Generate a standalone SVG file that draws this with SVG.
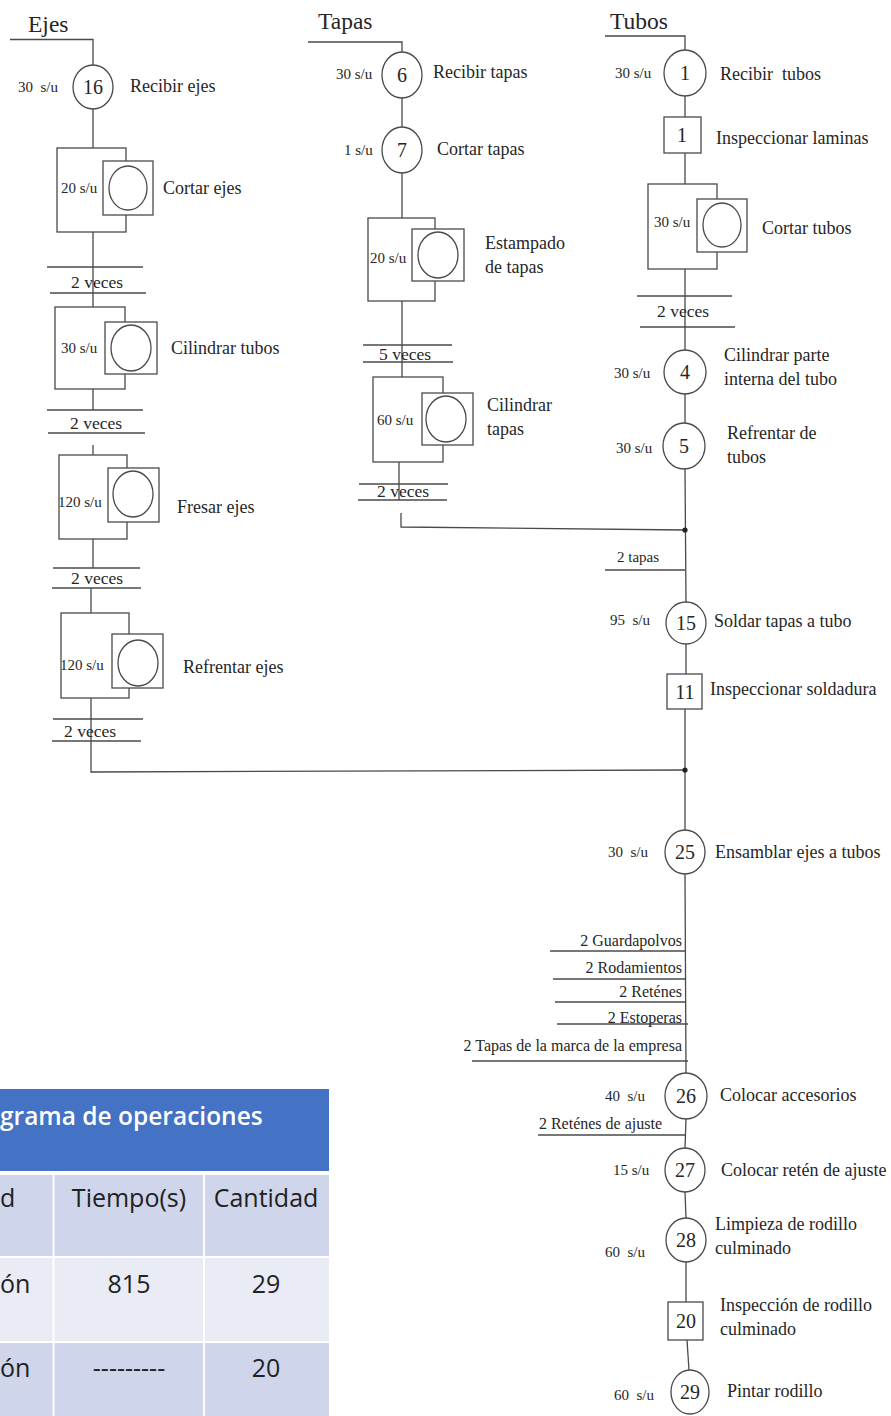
<svg xmlns="http://www.w3.org/2000/svg" width="891" height="1416" viewBox="0 0 891 1416">
<style>
.ln{stroke:#4a4a4a;stroke-width:1.3;fill:none}
.sh{stroke:#4a4a4a;stroke-width:1.3;fill:#fff}
.ob{stroke:#4a4a4a;stroke-width:1.3;fill:none}
text{font-family:"Liberation Serif","Times New Roman",serif;fill:#262626}
.t{font-size:23.5px}
.lb{font-size:18px}
.su{font-size:15px}
.vz{font-size:17.5px;text-anchor:middle}
.num{font-size:20px;text-anchor:middle}
.in{font-size:16px;text-anchor:end}
.tb{font-family:"Open Sans","Noto Sans",sans-serif;font-size:25px;fill:#222}
.th{font-family:"Open Sans","Noto Sans",sans-serif;font-size:24.5px;font-weight:600;fill:#fff}
</style>
<rect width="891" height="1416" fill="#fff"/>

<g id="connectors">
  <polyline class="ln" points="10,39.5 93,39.5 93,65"/>
  <line class="ln" x1="93" y1="109" x2="93" y2="148"/>
  <line class="ln" x1="93" y1="232" x2="93" y2="307"/>
  <line class="ln" x1="47" y1="267" x2="143" y2="267"/>
  <line class="ln" x1="50" y1="293" x2="146" y2="293"/>
  <line class="ln" x1="93" y1="389" x2="93" y2="410"/>
  <line class="ln" x1="47" y1="410" x2="143" y2="410"/>
  <line class="ln" x1="48" y1="433" x2="145" y2="433"/>
  <line class="ln" x1="93" y1="445" x2="93" y2="455"/>
  <line class="ln" x1="93" y1="539" x2="93" y2="568"/>
  <line class="ln" x1="53" y1="568" x2="140" y2="568"/>
  <line class="ln" x1="52" y1="588" x2="141" y2="588"/>
  <line class="ln" x1="91" y1="588" x2="91" y2="613"/>
  <line class="ln" x1="91" y1="698" x2="91" y2="741"/>
  <line class="ln" x1="53" y1="719" x2="143" y2="719"/>
  <line class="ln" x1="52" y1="741" x2="141" y2="741"/>
  <polyline class="ln" points="91,741 91,772 685,770"/>
  <polyline class="ln" points="308,42 402,42 402,52"/>
  <line class="ln" x1="402" y1="98" x2="402" y2="127"/>
  <line class="ln" x1="402" y1="173" x2="402" y2="218"/>
  <line class="ln" x1="402" y1="301" x2="402" y2="377"/>
  <line class="ln" x1="363" y1="345" x2="452" y2="345"/>
  <line class="ln" x1="363" y1="362" x2="453" y2="362"/>
  <line class="ln" x1="399" y1="462" x2="399" y2="500"/>
  <line class="ln" x1="359" y1="484" x2="448" y2="484"/>
  <line class="ln" x1="358" y1="500" x2="447" y2="500"/>
  <polyline class="ln" points="401,513 401,527 685,530"/>
  <polyline class="ln" points="605,36 685,36 685,50"/>
  <line class="ln" x1="685" y1="96" x2="685" y2="117"/>
  <line class="ln" x1="685" y1="153" x2="685" y2="184"/>
  <line class="ln" x1="685" y1="269" x2="685" y2="350"/>
  <line class="ln" x1="637" y1="296" x2="732" y2="296"/>
  <line class="ln" x1="640" y1="327" x2="735" y2="327"/>
  <line class="ln" x1="685" y1="394" x2="685" y2="423"/>
  <line class="ln" x1="685" y1="469" x2="686" y2="602"/>
  <line class="ln" x1="605" y1="570" x2="685" y2="570"/>
  <line class="ln" x1="686" y1="644" x2="686" y2="674"/>
  <line class="ln" x1="685" y1="709" x2="685" y2="830"/>
  <line class="ln" x1="685" y1="874" x2="686" y2="1073"/>
  <line class="ln" x1="550" y1="951" x2="686" y2="951"/>
  <line class="ln" x1="553" y1="979" x2="686" y2="979"/>
  <line class="ln" x1="555" y1="1002" x2="686" y2="1002"/>
  <line class="ln" x1="557" y1="1024" x2="688" y2="1024"/>
  <line class="ln" x1="472" y1="1061" x2="688" y2="1061"/>
  <line class="ln" x1="686" y1="1119" x2="685" y2="1148"/>
  <line class="ln" x1="538" y1="1135" x2="686" y2="1135"/>
  <line class="ln" x1="685" y1="1192" x2="686" y2="1218"/>
  <line class="ln" x1="686" y1="1262" x2="686" y2="1302"/>
  <line class="ln" x1="687" y1="1340" x2="689" y2="1370"/>
  <circle cx="685" cy="530" r="2.6" fill="#222"/>
  <circle cx="685" cy="770" r="2.6" fill="#222"/>
</g>

<g id="titles">
  <text class="t" x="28" y="32">Ejes</text>
  <text class="t" x="318" y="29">Tapas</text>
  <text class="t" x="610" y="29">Tubos</text>
</g>

<g id="rep-labels">
  <text class="vz" x="97" y="288">2 veces</text>
  <text class="vz" x="96" y="429">2 veces</text>
  <text class="vz" x="97" y="584">2 veces</text>
  <text class="vz" x="90" y="737">2 veces</text>
  <text class="vz" x="405" y="360">5 veces</text>
  <text class="vz" x="403" y="497">2 veces</text>
  <text class="vz" x="683" y="317">2 veces</text>
  <text class="su" x="617" y="562">2 tapas</text>
</g>

<g id="n16">
  <ellipse class="sh" cx="93" cy="87" rx="20" ry="22"/>
  <text class="num" x="93" y="94">16</text>
  <text class="su" x="18" y="92" xml:space="preserve">30  s/u</text>
  <text class="lb" x="130" y="92">Recibir ejes</text>
</g>
<g id="op-cortar-ejes">
  <rect class="ob" x="57" y="148" width="69" height="84"/>
  <rect class="sh" x="103" y="161" width="50" height="54"/>
  <ellipse class="sh" cx="128" cy="188" rx="19" ry="22"/>
  <text class="su" x="61" y="193">20 s/u</text>
  <text class="lb" x="163" y="194">Cortar ejes</text>
</g>
<g id="op-cilindrar-tubos">
  <rect class="ob" x="55" y="307" width="70" height="82"/>
  <rect class="sh" x="105" y="322" width="52" height="52"/>
  <ellipse class="sh" cx="131" cy="348" rx="20" ry="23"/>
  <text class="su" x="61" y="353">30 s/u</text>
  <text class="lb" x="171" y="354">Cilindrar tubos</text>
</g>
<g id="op-fresar-ejes">
  <rect class="ob" x="59" y="455" width="68" height="84"/>
  <rect class="sh" x="108" y="468" width="51" height="54"/>
  <ellipse class="sh" cx="133" cy="494" rx="20" ry="23"/>
  <text class="su" x="58" y="507">120 s/u</text>
  <text class="lb" x="177" y="513">Fresar ejes</text>
</g>
<g id="op-refrentar-ejes">
  <rect class="ob" x="61" y="613" width="68" height="85"/>
  <rect class="sh" x="112" y="634" width="51" height="54"/>
  <ellipse class="sh" cx="138" cy="663" rx="20" ry="23"/>
  <text class="su" x="60" y="670">120 s/u</text>
  <text class="lb" x="183" y="673">Refrentar ejes</text>
</g>

<g id="n6">
  <ellipse class="sh" cx="402" cy="75" rx="20" ry="23"/>
  <text class="num" x="402" y="82">6</text>
  <text class="su" x="336" y="79">30 s/u</text>
  <text class="lb" x="433" y="78">Recibir tapas</text>
</g>
<g id="n7">
  <ellipse class="sh" cx="402" cy="150" rx="20" ry="23"/>
  <text class="num" x="402" y="157">7</text>
  <text class="su" x="344" y="155">1 s/u</text>
  <text class="lb" x="437" y="155">Cortar tapas</text>
</g>
<g id="op-estampado">
  <rect class="ob" x="368" y="218" width="67" height="83"/>
  <rect class="sh" x="412" y="229" width="52" height="52"/>
  <ellipse class="sh" cx="438" cy="255" rx="20" ry="23"/>
  <text class="su" x="370" y="263">20 s/u</text>
  <text class="lb" x="485" y="249">Estampado</text>
  <text class="lb" x="485" y="273">de tapas</text>
</g>
<g id="op-cilindrar-tapas">
  <rect class="ob" x="373" y="377" width="70" height="85"/>
  <rect class="sh" x="422" y="393" width="51" height="52"/>
  <ellipse class="sh" cx="446" cy="419" rx="20" ry="23"/>
  <text class="su" x="377" y="425">60 s/u</text>
  <text class="lb" x="487" y="411">Cilindrar</text>
  <text class="lb" x="487" y="435">tapas</text>
</g>

<g id="n1">
  <ellipse class="sh" cx="685" cy="73" rx="21" ry="23"/>
  <text class="num" x="685" y="80">1</text>
  <text class="su" x="615" y="78">30 s/u</text>
  <text class="lb" x="720" y="80" xml:space="preserve">Recibir  tubos</text>
</g>
<g id="i1">
  <rect class="sh" x="664" y="117" width="37" height="36"/>
  <text class="num" x="682" y="142">1</text>
  <text class="lb" x="716" y="144">Inspeccionar laminas</text>
</g>
<g id="op-cortar-tubos">
  <rect class="ob" x="648" y="184" width="69" height="85"/>
  <rect class="sh" x="697" y="199" width="50" height="53"/>
  <ellipse class="sh" cx="722" cy="225" rx="19" ry="22"/>
  <text class="su" x="654" y="227">30 s/u</text>
  <text class="lb" x="762" y="234">Cortar tubos</text>
</g>
<g id="n4">
  <ellipse class="sh" cx="685" cy="372" rx="21" ry="22"/>
  <text class="num" x="685" y="379">4</text>
  <text class="su" x="614" y="378">30 s/u</text>
  <text class="lb" x="724" y="361">Cilindrar parte</text>
  <text class="lb" x="724" y="385">interna del tubo</text>
</g>
<g id="n5">
  <ellipse class="sh" cx="684" cy="446" rx="21" ry="23"/>
  <text class="num" x="684" y="453">5</text>
  <text class="su" x="616" y="453">30 s/u</text>
  <text class="lb" x="727" y="439">Refrentar de</text>
  <text class="lb" x="727" y="463">tubos</text>
</g>
<g id="n15">
  <ellipse class="sh" cx="686" cy="623" rx="20" ry="21"/>
  <text class="num" x="686" y="630">15</text>
  <text class="su" x="610" y="625" xml:space="preserve">95  s/u</text>
  <text class="lb" x="714" y="627">Soldar tapas a tubo</text>
</g>
<g id="i11">
  <rect class="sh" x="667" y="674" width="35" height="35"/>
  <text class="num" x="685" y="699">11</text>
  <text class="lb" x="710" y="695">Inspeccionar soldadura</text>
</g>
<g id="n25">
  <ellipse class="sh" cx="685" cy="852" rx="20" ry="22"/>
  <text class="num" x="685" y="859">25</text>
  <text class="su" x="608" y="857" xml:space="preserve">30  s/u</text>
  <text class="lb" x="715" y="858">Ensamblar ejes a tubos</text>
</g>
<g id="inputs">
  <text class="in" x="682" y="946">2 Guardapolvos</text>
  <text class="in" x="682" y="973">2 Rodamientos</text>
  <text class="in" x="682" y="997">2 Reténes</text>
  <text class="in" x="682" y="1023">2 Estoperas</text>
  <text class="in" x="682" y="1051">2 Tapas de la marca de la empresa</text>
  <text class="in" x="662" y="1129">2 Reténes de ajuste</text>
</g>
<g id="n26">
  <ellipse class="sh" cx="686" cy="1096" rx="21" ry="23"/>
  <text class="num" x="686" y="1103">26</text>
  <text class="su" x="605" y="1101" xml:space="preserve">40  s/u</text>
  <text class="lb" x="720" y="1101">Colocar accesorios</text>
</g>
<g id="n27">
  <ellipse class="sh" cx="685" cy="1170" rx="20" ry="22"/>
  <text class="num" x="685" y="1177">27</text>
  <text class="su" x="613" y="1175">15 s/u</text>
  <text class="lb" x="721" y="1176">Colocar retén de ajuste</text>
</g>
<g id="n28">
  <ellipse class="sh" cx="686" cy="1240" rx="20" ry="22"/>
  <text class="num" x="686" y="1247">28</text>
  <text class="su" x="605" y="1257" xml:space="preserve">60  s/u</text>
  <text class="lb" x="715" y="1230">Limpieza de rodillo</text>
  <text class="lb" x="715" y="1254">culminado</text>
</g>
<g id="i20">
  <rect class="sh" x="668" y="1302" width="35" height="38"/>
  <text class="num" x="686" y="1328">20</text>
  <text class="lb" x="720" y="1311">Inspección de rodillo</text>
  <text class="lb" x="720" y="1335">culminado</text>
</g>
<g id="n29">
  <ellipse class="sh" cx="690" cy="1392" rx="19" ry="22"/>
  <text class="num" x="690" y="1399">29</text>
  <text class="su" x="614" y="1400" xml:space="preserve">60  s/u</text>
  <text class="lb" x="727" y="1397">Pintar rodillo</text>
</g>

<g id="table">
  <rect x="0" y="1089" width="329" height="82" fill="#4472C4"/>
  <rect x="0" y="1175" width="329" height="81" fill="#CFD5EA"/>
  <rect x="0" y="1258" width="329" height="83" fill="#E9EBF5"/>
  <rect x="0" y="1343" width="329" height="73" fill="#CFD5EA"/>
  <line x1="53.5" y1="1173" x2="53.5" y2="1416" stroke="#fff" stroke-width="2"/>
  <line x1="204" y1="1173" x2="204" y2="1416" stroke="#fff" stroke-width="2"/>
  <text class="th" x="0" y="1125">grama de operaciones</text>
  <text class="tb" x="0" y="1207">d</text>
  <text class="tb" x="129" y="1207" text-anchor="middle">Tiempo(s)</text>
  <text class="tb" x="266" y="1207" text-anchor="middle">Cantidad</text>
  <text class="tb" x="0" y="1293">ón</text>
  <text class="tb" x="129" y="1293" text-anchor="middle">815</text>
  <text class="tb" x="266" y="1293" text-anchor="middle">29</text>
  <text class="tb" x="0" y="1377">ón</text>
  <text class="tb" x="129" y="1377" text-anchor="middle">---------</text>
  <text class="tb" x="266" y="1377" text-anchor="middle">20</text>
</g>
</svg>
